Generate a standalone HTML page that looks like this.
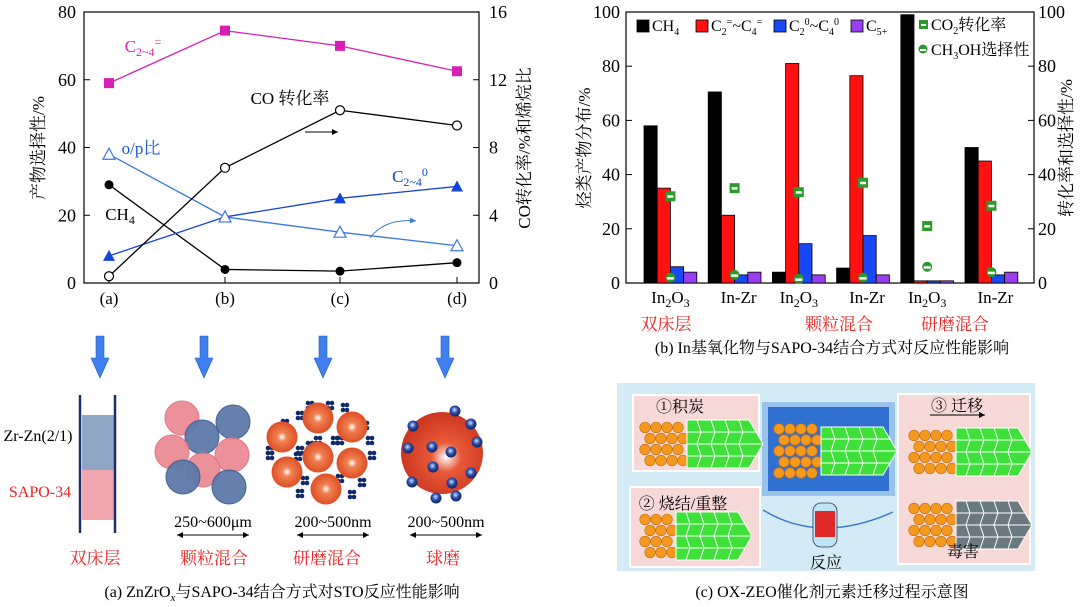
<!DOCTYPE html>
<html><head><meta charset="utf-8"><style>
html,body{margin:0;padding:0;background:#fff}
svg{display:block;font-family:"Liberation Serif","Noto Serif CJK SC",serif}
</style></head><body>
<svg id="root" width="1080" height="607" viewBox="0 0 1080 607" xmlns="http://www.w3.org/2000/svg">
<defs>
<radialGradient id="og" cx="0.5" cy="0.5" r="0.6"><stop offset="0" stop-color="#fff"/><stop offset="0.25" stop-color="#f08050"/><stop offset="1" stop-color="#d8401a"/></radialGradient>
<radialGradient id="bg2" cx="0.45" cy="0.4" r="0.6"><stop offset="0" stop-color="#cfe0ff"/><stop offset="0.5" stop-color="#2a4fa8"/><stop offset="1" stop-color="#0d2160"/></radialGradient>
<radialGradient id="big" cx="0.55" cy="0.55" r="0.6"><stop offset="0" stop-color="#fff"/><stop offset="0.3" stop-color="#e85a3a"/><stop offset="1" stop-color="#c8301a"/></radialGradient>
<marker id="ah" markerWidth="8" markerHeight="8" refX="6" refY="3" orient="auto"><path d="M0,0 L6,3 L0,6 z" fill="#000"/></marker>
<marker id="ahs" markerWidth="8" markerHeight="8" refX="0" refY="3" orient="auto"><path d="M6,0 L0,3 L6,6 z" fill="#000"/></marker>
<marker id="ahb" markerWidth="8" markerHeight="8" refX="6" refY="3" orient="auto"><path d="M0,0 L6,3 L0,6 z" fill="#3a7ad8"/></marker>
</defs>
<g id="chartA"></g>
<g id="chartB"></g>
<g id="panelA"></g>
<g id="panelC"></g>
</svg>
<script>
// ===== Chart A data =====
const catsA = ["(a)","(b)","(c)","(d)"];
const olefinA = [59, 74.5, 70, 62.5];
const ch4A = [29, 4, 3.5, 6];
const opA = [38, 19.5, 15, 11];
const paraffinA = [8, 19.5, 25, 28.5];
const coConvA = [0.4, 6.8, 10.2, 9.3];
const leftTicksA = [0,20,40,60,80];
const rightTicksA = [0,4,8,12,16];
// ===== Chart B data =====
const catsB = ["In2O3","In-Zr","In2O3","In-Zr","In2O3","In-Zr"];
const ch4B = [58, 70.5, 4, 5.5, 99, 50];
const oleB = [35, 25, 81, 76.5, 0.8, 45];
const parB = [6, 3, 14.5, 17.5, 0.8, 3];
const c5B = [4, 4, 3, 3, 0.8, 4];
const co2B = [32, 35, 33.5, 37, 21, 28.5];
const meohB = [2, 3, 1.5, 2, 6, 4];
const ticksB = [0,20,40,60,80,100];

const NS="http://www.w3.org/2000/svg";
function mk(parent, tag, attrs, text){
  const e=document.createElementNS(NS,tag);
  for(const k in attrs) e.setAttribute(k,attrs[k]);
  if(text!==undefined) e.textContent=text;
  parent.appendChild(e); return e;
}
function txt(parent,x,y,s,opt){
  opt=opt||{};
  const t=mk(parent,'text',{x:x,y:y,'font-size':opt.fs||15,fill:opt.fill||'#000','text-anchor':opt.anchor||'middle'});
  if(opt.rot) t.setAttribute('transform','rotate('+opt.rot+' '+x+' '+y+')');
  t.innerHTML=s; return t;
}

// ===== Chart A =====
(function(){
  const g=document.getElementById('chartA');
  const L=84,R=479,T=12,B=283;
  const xs=[109,225,340,457];
  const yl=v=>B-(v/80)*(B-T);
  const yr=v=>B-(v/16)*(B-T);
  const f=mk(g,'rect',{x:L,y:T,width:R-L,height:B-T,fill:'none',stroke:'#000','stroke-width':1.2});
   
  leftTicksA.forEach(v=>{mk(g,'line',{x1:L,x2:L+6,y1:yl(v),y2:yl(v),stroke:'#000'});
    const t=txt(g,L-8,yl(v)+6,v,{fs:18,anchor:'end'});
     });
  rightTicksA.forEach(v=>{mk(g,'line',{x1:R-6,x2:R,y1:yr(v),y2:yr(v),stroke:'#000'});
    const t=txt(g,R+10,yr(v)+6,v,{fs:18,anchor:'start'});
     });
  catsA.forEach((c,i)=>{mk(g,'line',{x1:xs[i],x2:xs[i],y1:B,y2:B-6,stroke:'#000'});
    const t=txt(g,xs[i],B+21,c,{fs:17});
     });
  const yt=txt(g,44,148,'产物选择性/%',{fs:17,rot:-90});
   
  const yt2=txt(g,530,148,'CO转化率/%和烯烷比',{fs:17,rot:-90});
   
  function series(vals,yf,color,marker,name,sw){
    const sg=mk(g,'g',{});
     
    mk(sg,'polyline',{points:vals.map((v,i)=>xs[i]+','+yf(v)).join(' '),fill:'none',stroke:color,'stroke-width':sw||1.3});
    vals.forEach((v,i)=>{const x=xs[i],y=yf(v);
      if(marker==='sq') mk(sg,'rect',{x:x-5,y:y-5,width:10,height:10,fill:color});
      else if(marker==='dot') mk(sg,'circle',{cx:x,cy:y,r:4.5,fill:color});
      else if(marker==='odot') mk(sg,'circle',{cx:x,cy:y,r:4.5,fill:'#fff',stroke:color,'stroke-width':1.2});
      else if(marker==='tri') mk(sg,'polygon',{points:`${x},${y-6} ${x-6},${y+5} ${x+6},${y+5}`,fill:color});
      else if(marker==='otri') mk(sg,'polygon',{points:`${x},${y-6} ${x-6},${y+5} ${x+6},${y+5}`,fill:'#fff',stroke:color,'stroke-width':1.2});
    });
  }
  series(olefinA,yl,'#d61fb4','sq','series-olefin');
  series(ch4A,yl,'#000','dot','series-ch4');
  series(paraffinA,yl,'#1444d8','tri','series-paraffin');
  series(opA,yl,'#3a78e0','otri','series-op-ratio');
  series(coConvA,yr,'#000','odot','series-co-conversion');
  txt(g,143,52,'C<tspan font-size="12" dy="4">2~4</tspan><tspan font-size="12" dy="-10">=</tspan>',{fs:17,fill:'#d61fb4'});
  txt(g,290,104,'CO 转化率',{fs:17});
  mk(g,'line',{x1:305,x2:338,y1:132,y2:132,stroke:'#000','marker-end':'url(#ah)'});
  txt(g,141,154,'o/p比',{fs:17,fill:'#1a56d8'});
  txt(g,410,182,'C<tspan font-size="12" dy="4">2~4</tspan><tspan font-size="12" dy="-10">0</tspan>',{fs:17,fill:'#1444d8'});
  txt(g,120,220,'CH<tspan font-size="12" dy="4">4</tspan>',{fs:17});
  mk(g,'path',{d:'M370,238 Q385,218 416,221',fill:'none',stroke:'#3a7ad8','marker-end':'url(#ahb)'});
})();

// ===== Chart B =====
(function(){
  const g=document.getElementById('chartB');
  const L=626,R=1034,T=12,B=283;
  const y=v=>B-(v/100)*(B-T);
  const g0=644, gap=64.2, bw=13.2;
  mk(g,'rect',{x:L,y:T,width:R-L,height:B-T,fill:'none',stroke:'#000','stroke-width':1.2});
  ticksB.forEach(v=>{mk(g,'line',{x1:L,x2:L+6,y1:y(v),y2:y(v),stroke:'#000'});
    mk(g,'line',{x1:R-6,x2:R,y1:y(v),y2:y(v),stroke:'#000'});
    const a=txt(g,L-6,y(v)+6,v,{fs:18,anchor:'end'});
     
    const b=txt(g,R+4,y(v)+6,v,{fs:18,anchor:'start'});
     });
  const sets=[[ch4B,'#000'],[oleB,'#ff1111'],[parB,'#1848f8'],[c5B,'#9a3ff0']];
  catsB.forEach((c,i)=>{
    const x0=g0+i*gap;
    sets.forEach((s,k)=>{const r=mk(g,'rect',{x:x0+k*bw,y:y(s[0][i]),width:bw,height:B-y(s[0][i]),fill:s[1],stroke:'#000','stroke-width':0.8});
       });
    const mx=x0+2*bw;
    const m1=mk(g,'g',{});  
    mk(m1,'rect',{x:mx-5,y:y(co2B[i])-5,width:10,height:10,fill:'#2a9a2a'});
    mk(m1,'rect',{x:mx-3,y:y(co2B[i])-1,width:6,height:2.5,fill:'#fff'});
    const m2=mk(g,'g',{});  
    mk(m2,'circle',{cx:mx,cy:y(meohB[i]),r:5,fill:'#2a9a2a'});
    mk(m2,'rect',{x:mx-3.5,y:y(meohB[i])-0.5,width:7,height:2.5,fill:'#fff'});
    const lab=c==='In2O3'?'In<tspan font-size="12" dy="4">2</tspan><tspan dy="-4">O</tspan><tspan font-size="12" dy="4">3</tspan>':c;
    const t=txt(g,x0+2*bw+(i%2?4:0),303,lab,{fs:17});
     
  });
  const lg=mk(g,'g',{});  
  const le=[[637,'#000','CH<tspan font-size="10" dy="4">4</tspan>'],[696,'#ff1111','C<tspan font-size="10" dy="4">2</tspan><tspan font-size="10" dy="-10">=</tspan><tspan dy="6">~C</tspan><tspan font-size="10" dy="4">4</tspan><tspan font-size="10" dy="-10">=</tspan>'],[774,'#1848f8','C<tspan font-size="10" dy="4">2</tspan><tspan font-size="10" dy="-10">0</tspan><tspan dy="6">~C</tspan><tspan font-size="10" dy="4">4</tspan><tspan font-size="10" dy="-10">0</tspan>'],[851,'#9a3ff0','C<tspan font-size="10" dy="4">5+</tspan>']];
  le.forEach(e=>{mk(lg,'rect',{x:e[0],y:20,width:12,height:12,fill:e[1],stroke:'#000','stroke-width':0.8});
    txt(lg,e[0]+15,31,e[2],{fs:16,anchor:'start'});});
  mk(lg,'rect',{x:919,y:20,width:9,height:9,fill:'#2a9a2a'});mk(lg,'rect',{x:921,y:24,width:5,height:2,fill:'#fff'});
  txt(lg,931,30,'CO<tspan font-size="10" dy="4">2</tspan><tspan dy="-4">转化率</tspan>',{fs:16,anchor:'start'});
  mk(lg,'circle',{cx:923,cy:49,r:4.5,fill:'#2a9a2a'});mk(lg,'rect',{x:920,y:49,width:6,height:2,fill:'#fff'});
  txt(lg,931,55,'CH<tspan font-size="10" dy="4">3</tspan><tspan dy="-4">OH选择性</tspan>',{fs:16,anchor:'start'});
  txt(g,590,148,'烃类产物分布/%',{fs:17,rot:-90});
  txt(g,1072,148,'转化率和选择性/%',{fs:17,rot:-90});
  [['双床层',666],['颗粒混合',839],['研磨混合',955]].forEach(a=>{const t=txt(g,a[1],330,a[0],{fs:17,fill:'#ee2222'});
     });
  const cap=txt(g,832,353,'(b) In基氧化物与SAPO-34结合方式对反应性能影响',{fs:16});
   
})();

// ===== Panel A schematic =====
(function(){
  const g=document.getElementById('panelA');
  [100,204,323,445].forEach(x=>{const a=mk(g,'polygon',{points:`${x-4},336 ${x+4},336 ${x+4},358 ${x+9},358 ${x},378 ${x-9},358 ${x-4},358`,fill:'#3f7fef',stroke:'#2a5fc0','stroke-width':0.6});
     });
  mk(g,'rect',{x:82,y:415,width:33,height:55,fill:'#8fa6c4'});
  mk(g,'rect',{x:82,y:470,width:33,height:50,fill:'#f0a6ae'});
  mk(g,'line',{x1:80,x2:80,y1:395,y2:533,stroke:'#1a2e6a','stroke-width':2.5});
  mk(g,'line',{x1:115,x2:115,y1:395,y2:533,stroke:'#1a2e6a','stroke-width':2.5});
  txt(g,38,441,'Zr-Zn(2/1)',{fs:16});
  txt(g,40,497,'SAPO-34',{fs:16,fill:'#ee2222'});
  [[182,418,'p'],[233,422,'b'],[202,437,'b'],[172,452,'p'],[232,455,'p'],[203,470,'p'],[183,477,'b'],[229,487,'b']].forEach(c=>{
    mk(g,'circle',{cx:c[0],cy:c[1],r:17,fill:c[2]==='p'?'#ec8b95':'#5d7aa8',stroke:c[2]==='p'?'#e07080':'#3a5a90','stroke-width':1,opacity:0.95});});
  const dots=[[330,405],[300,415],[345,407],[370,440],[372,455],[340,440],[300,450],[270,450],[298,456],[305,480],[340,478],[362,482],[352,494],[300,493],[335,440],[310,445],[285,423],[365,425],[310,405],[318,440],[343,459],[270,455]];
  dots.forEach(d=>{for(let k=0;k<4;k++) mk(g,'circle',{cx:d[0]+(k%2)*4-2,cy:d[1]+(k>1?3:-2),r:2.3,fill:'#0f2a6a'});});
  [[318,418],[352,427],[282,437],[318,457],[352,463],[287,472],[326,489]].forEach(c=>mk(g,'circle',{cx:c[0],cy:c[1],r:15.5,fill:'url(#og)'}));
  mk(g,'circle',{cx:442,cy:453,r:41,fill:'url(#big)'});
  [[413,426],[455,411],[471,424],[408,448],[432,447],[451,452],[477,442],[412,482],[433,467],[452,483],[471,473],[436,498],[456,496]].forEach(c=>mk(g,'circle',{cx:c[0],cy:c[1],r:5.5,fill:'url(#bg2)'}));
  [['250~600μm',213],['200~500nm',333],['200~500nm',446]].forEach(a=>{txt(g,a[1],527,a[0],{fs:16});
    mk(g,'line',{x1:a[1]-36,x2:a[1]+36,y1:535,y2:535,stroke:'#000','marker-end':'url(#ah)','marker-start':'url(#ahs)'});});
  [['双床层',95],['颗粒混合',214],['研磨混合',327],['球磨',443]].forEach(a=>{const t=txt(g,a[1],564,a[0],{fs:17,fill:'#ee2222'});
     });
  const cap=txt(g,282,597,'(a) ZnZrO<tspan font-style="italic" font-size="11" dy="4">x</tspan><tspan dy="-4">与SAPO-34结合方式对STO反应性能影响</tspan>',{fs:16});
   
})();

// ===== Panel C schematic =====
(function(){
  const g=document.getElementById('panelC');
  mk(g,'rect',{x:617,y:383,width:418,height:188,fill:'#d4ebf5'});
  [[633,395,126,76],[630,487,130,80],[898,394,132,170]].forEach(b=>mk(g,'rect',{x:b[0],y:b[1],width:b[2],height:b[3],fill:'#f6d8d6',stroke:'#fff','stroke-width':2}));
  mk(g,'rect',{x:762,y:402,width:133,height:94,fill:'#5d9be0',opacity:0.5});
  mk(g,'rect',{x:768,y:407,width:121,height:84,fill:'#2f70d0'});
  function unit(x,y,col,cols,rows){
    const gg=mk(g,'g',{});
     
    for(let c=0;c<cols;c++) for(let r=0;r<rows;r++){
      const xx=x+c*11+(r%2)*5, yy=y-(rows-1)*5.5+r*11;
      mk(gg,'circle',{cx:xx,cy:yy,r:5.3,fill:'#f39a1e',stroke:'#c96a10','stroke-width':0.6});}
    const hx=x+cols*11-2;
    mk(gg,'polygon',{points:`${hx},${y-24} ${hx+62},${y-24} ${hx+76},${y} ${hx+62},${y+24} ${hx},${y+24}`,fill:col,stroke:'#fff','stroke-width':1});
    for(let k=1;k<5;k++) mk(gg,'polyline',{points:`${hx+k*14-4},${y-24} ${hx+k*14},${y-12} ${hx+k*14-4},${y} ${hx+k*14},${y+12} ${hx+k*14-4},${y+24}`,fill:'none',stroke:'#fff','stroke-width':1});
    mk(gg,'line',{x1:hx,x2:hx+70,y1:y-12,y2:y-12,stroke:'#fff'});
    mk(gg,'line',{x1:hx,x2:hx+76,y1:y,y2:y,stroke:'#fff'});
    mk(gg,'line',{x1:hx,x2:hx+70,y1:y+12,y2:y+12,stroke:'#fff'});
  }
  unit(645,444,'#3fe03a',4,4); unit(645,536,'#3fe03a',3,4); unit(779,451,'#3fe03a',4,5);
  unit(914,452,'#3fe03a',4,4); unit(914,525,'#6a7880',4,4);
  txt(g,680,412,'①积炭',{fs:16});
  txt(g,683,509,'② 烧结/重整',{fs:16});
  txt(g,957,411,'③  迁移',{fs:16});
  mk(g,'line',{x1:930,x2:985,y1:415,y2:415,stroke:'#000','marker-end':'url(#ah)'});
  txt(g,963,557,'毒害',{fs:16});
  mk(g,'path',{d:'M763,510 Q820,545 893,512',fill:'none',stroke:'#3a7ad8','stroke-width':1.5});
  mk(g,'rect',{x:813,y:503,width:24,height:44,rx:8,fill:'#bfe4f3',stroke:'#335','stroke-width':0.8});
  mk(g,'rect',{x:815,y:511,width:20,height:26,fill:'#e02a2a'});
  txt(g,826,568,'反应',{fs:16});
  const cap=txt(g,832,597,'(c) OX-ZEO催化剂元素迁移过程示意图',{fs:16});
   
})();
</script>
</body></html>
